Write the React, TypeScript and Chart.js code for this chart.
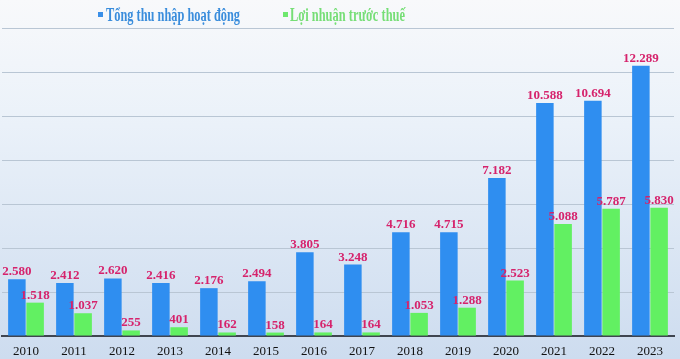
import React, { useEffect, useRef } from "react";
import { Chart, registerables } from "chart.js";

Chart.register(...registerables);

const years = ["2010","2011","2012","2013","2014","2015","2016","2017","2018","2019","2020","2021","2022","2023"];
const revenue = [2580, 2412, 2620, 2416, 2176, 2494, 3805, 3248, 4716, 4715, 7182, 10588, 10694, 12289];
const profit = [1518, 1037, 255, 401, 162, 158, 164, 164, 1053, 1288, 2523, 5088, 5787, 5830];
const seriesNames = ["Tổng thu nhập hoạt động", "Lợi nhuận trước thuế"];

const fmt = (v: number) => v.toLocaleString("de-DE");

const bgPlugin = {
  id: "bg",
  beforeDraw(chart: any) {
    const { ctx, width, height } = chart;
    ctx.save();
    const g = ctx.createLinearGradient(0, 0, 0, height);
    g.addColorStop(0, "#f8f9fb");
    g.addColorStop(0.35, "#eaf1f9");
    g.addColorStop(1, "#cddcef");
    ctx.fillStyle = g;
    ctx.fillRect(0, 0, width, height);
    ctx.restore();
  },
};

const legendPlugin = {
  id: "customLegend",
  afterDraw(chart: any) {
    const { ctx } = chart;
    const items = [
      { text: seriesNames[0], color: "#3a8ddc", box: "#3a8fe8", bx: 98, tx: 106, tw: 134 },
      { text: seriesNames[1], color: "#76de76", box: "#6ee86e", bx: 283, tx: 290, tw: 115 },
    ];
    ctx.save();
    items.forEach((it) => {
      ctx.fillStyle = it.box;
      ctx.fillRect(it.bx, 12, 5, 5);
      ctx.font = 'bold 19px "Liberation Serif", serif';
      const w = ctx.measureText(it.text).width;
      ctx.save();
      ctx.translate(it.tx, 21);
      ctx.scale(it.tw / w, 1);
      ctx.fillStyle = it.color;
      ctx.textBaseline = "alphabetic";
      ctx.fillText(it.text, 0, 0);
      ctx.restore();
    });
    ctx.restore();
  },
};

const labelPlugin = {
  id: "barLabels",
  afterDatasetsDraw(chart: any) {
    const { ctx } = chart;
    ctx.save();
    ctx.font = 'bold 13px "Liberation Serif", serif';
    ctx.fillStyle = "#d6236c";
    ctx.textAlign = "center";
    ctx.textBaseline = "alphabetic";
    chart.data.datasets.forEach((ds: any, di: number) => {
      const meta = chart.getDatasetMeta(di);
      meta.data.forEach((bar: any, i: number) => {
        ctx.fillText(fmt(ds.data[i]), bar.x, bar.y - 4);
      });
    });
    ctx.restore();
  },
};

export default function App() {
  const ref = useRef<HTMLCanvasElement>(null);
  useEffect(() => {
    const chart = new Chart(ref.current!, {
      type: "bar",
      data: {
        labels: years,
        datasets: [
          {
            label: seriesNames[0],
            data: revenue,
            backgroundColor: "#2f8ef0",
            borderWidth: 0,
            barPercentage: 0.96,
            categoryPercentage: 0.76,
          },
          {
            label: seriesNames[1],
            data: profit,
            backgroundColor: "#62f062",
            borderWidth: 0,
            barPercentage: 0.96,
            categoryPercentage: 0.76,
          },
        ],
      },
      options: {
        animation: false,
        responsive: false,
        maintainAspectRatio: false,
        layout: { padding: { top: 28, left: 2, right: 6, bottom: -8 } },
        plugins: { legend: { display: false }, tooltip: { enabled: false } },
        scales: {
          x: {
            grid: { display: false, drawTicks: false },
            border: { display: true, color: "#3f4550", width: 2 },
            ticks: {
              color: "#111",
              font: { family: '"Liberation Serif", serif', size: 13, lineHeight: 1.15 },
              padding: 8,
              maxRotation: 0,
              autoSkip: false,
            },
          },
          y: {
            display: true,
            min: 0,
            max: 14000,
            ticks: { display: false, stepSize: 2000 },
            grid: { color: "#b9c6d4", drawTicks: false, lineWidth: 1 },
            border: { display: false },
          },
        },
      },
      plugins: [bgPlugin, labelPlugin, legendPlugin],
    });
    return () => chart.destroy();
  }, []);
  return (
    <div style={{ position: "fixed", left: 0, top: 0, width: 680, height: 359 }}>
      <canvas ref={ref} width={680} height={359} style={{ display: "block" }} />
    </div>
  );
}
